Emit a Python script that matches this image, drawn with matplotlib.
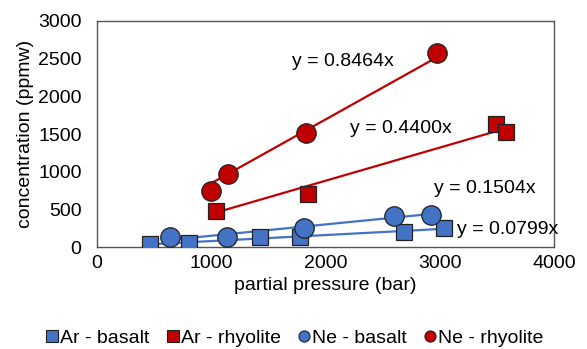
import numpy as np
import matplotlib
matplotlib.use("Agg")
import matplotlib.pyplot as plt
from matplotlib.lines import Line2D

plt.rcParams['font.family'] = ['Liberation Sans', 'DejaVu Sans']

# data
ar_basalt_p = [464, 808, 1427, 1777, 2687, 3037]
ar_basalt_c = [36, 49, 129, 129, 195, 248]
ar_rhyolite_p = [1042, 1850, 3489, 3577]
ar_rhyolite_c = [478, 700, 1633, 1523]
ne_basalt_p = [639, 1135, 1815, 2595, 2920]
ne_basalt_c = [137, 137, 257, 412, 425]
ne_rhyolite_p = [998, 1149, 1826, 2979]
ne_rhyolite_c = [748, 969, 1518, 2580]

slopes = {'ar_basalt': 0.0799, 'ar_rhyolite': 0.4400,
          'ne_basalt': 0.1504, 'ne_rhyolite': 0.8464}
labels = ['Ar - basalt', 'Ar - rhyolite', 'Ne - basalt', 'Ne - rhyolite']

blue = '#4472C4'
red = '#C00000'

fig = plt.figure(figsize=(5.87, 3.49), dpi=100)
ax = fig.add_axes([0.165, 0.292, 0.779, 0.648])

series = [
    (ar_basalt_p, ar_basalt_c, slopes['ar_basalt'], blue, 's', 12),
    (ne_basalt_p, ne_basalt_c, slopes['ne_basalt'], blue, 'o', 14),
    (ar_rhyolite_p, ar_rhyolite_c, slopes['ar_rhyolite'], red, 's', 12),
    (ne_rhyolite_p, ne_rhyolite_c, slopes['ne_rhyolite'], red, 'o', 14),
]

# trend lines first, markers on top
for p, c, k, col, m, ms in series:
    xs = np.array([min(p), max(p)])
    ax.plot(xs, k * xs, color=col, lw=1.6, zorder=2)
for p, c, k, col, m, ms in series:
    ax.plot(p, c, ls='none', marker=m, ms=ms, mfc=col, mec='#222222',
            mew=0.9, zorder=3)

ax.text(1704, 2461, 'y = 0.8464x', fontsize=14, va='center', ha='left')
ax.text(2214, 1576, 'y = 0.4400x', fontsize=14, va='center', ha='left')
ax.text(2952, 780, 'y = 0.1504x', fontsize=14, va='center', ha='left')
ax.text(3148, 235, 'y = 0.0799x', fontsize=14, va='center', ha='left', zorder=4)

ax.set_xlim(0, 4000)
ax.set_ylim(0, 3000)
ax.set_xticks([0, 1000, 2000, 3000, 4000])
ax.set_yticks([0, 500, 1000, 1500, 2000, 2500, 3000])
ax.tick_params(length=0, labelsize=14)
ax.tick_params(axis='x', pad=6)
ax.tick_params(axis='y', pad=11)
for s in ax.spines.values():
    s.set_color('#555555')
    s.set_linewidth(1.0)
ax.set_xlabel('partial pressure (bar)', fontsize=14, labelpad=3)
ax.set_ylabel('concentration (ppmw)', fontsize=14, labelpad=3)

handles = [
    Line2D([], [], ls='none', marker='s', ms=8, mfc=blue, mec='#222222', mew=0.8),
    Line2D([], [], ls='none', marker='s', ms=8, mfc=red, mec='#222222', mew=0.8),
    Line2D([], [], ls='none', marker='o', ms=8, mfc=blue, mec='#222222', mew=0.8),
    Line2D([], [], ls='none', marker='o', ms=8, mfc=red, mec='#222222', mew=0.8),
]
fig.legend(handles, labels, loc='center', bbox_to_anchor=(0.502, 0.0315), ncol=4,
           frameon=False, fontsize=14, handlelength=0.6, handletextpad=0.1,
           columnspacing=0.9, borderpad=0, borderaxespad=0)

fig.savefig('out.png', dpi=100)
